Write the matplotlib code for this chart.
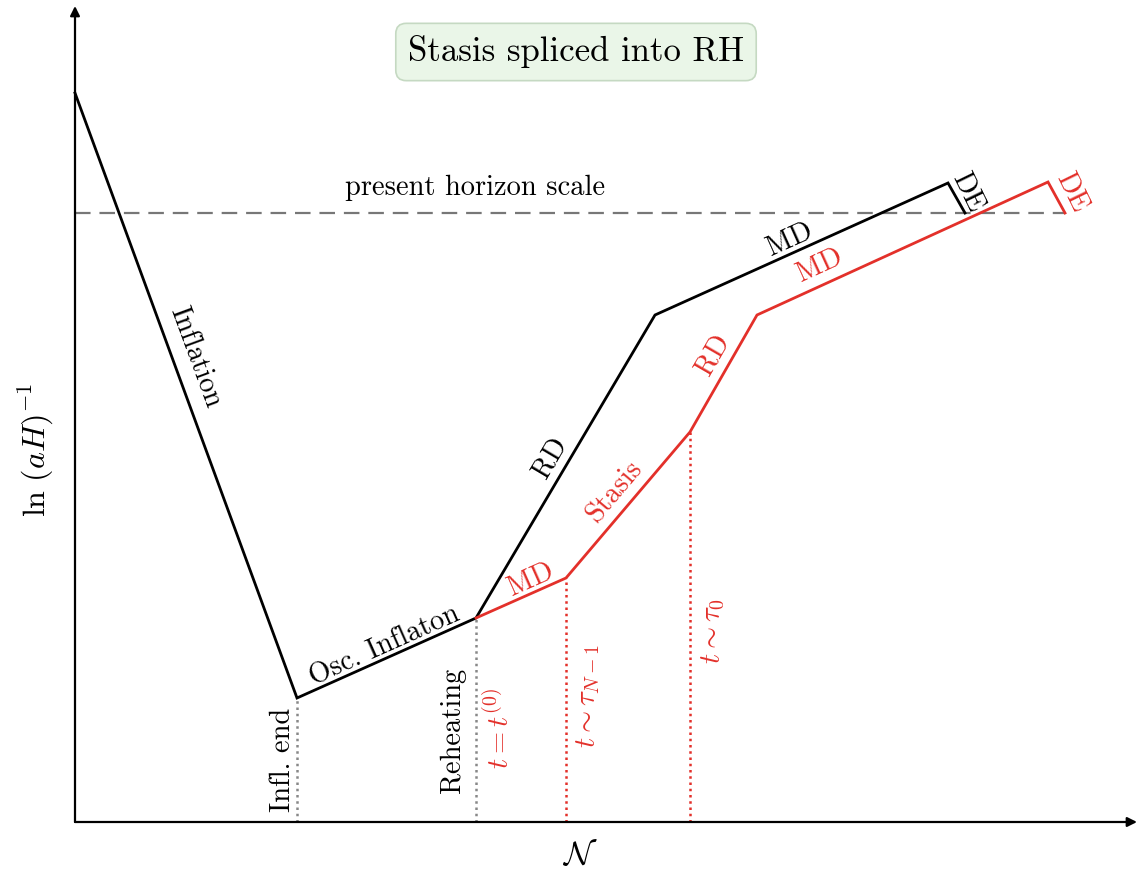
import matplotlib
matplotlib.use("Agg")
import matplotlib.pyplot as plt
import numpy as np

plt.rcParams['font.family'] = ['cmr10']
plt.rcParams['mathtext.fontset'] = 'cm'
plt.rcParams['axes.formatter.use_mathtext'] = True

# Schematic data (N, ln(aH)^-1) in arbitrary units, origin at axes origin
black_N = [0, 222, 401, 580, 873, 890]
black_L = [729, 124, 204, 507, 639, 609]
red_N = [401, 491, 615, 682, 973, 990]
red_L = [204, 244, 390, 507, 640, 609]
horizon_L = 609
horizon_N = [0, 990]
gray_marks_N = [222, 401]
gray_marks_L = [124, 204]
red_marks_N = [491, 615]
red_marks_L = [244, 390]

RED = '#e3302a'

fig = plt.figure(figsize=(11.39, 8.76), dpi=100)
ax = fig.add_axes([0, 0, 1, 1])
ax.set_xlim(-75, 1139 - 75)
ax.set_ylim(822 - 876, 822)
ax.axis('off')

# axes arrows
ax.annotate('', xy=(1062, 0), xytext=(0, 0),
            arrowprops=dict(arrowstyle='-|>', lw=1.6, color='black', mutation_scale=14, shrinkA=0, shrinkB=0))
ax.annotate('', xy=(0, 816), xytext=(0, 0),
            arrowprops=dict(arrowstyle='-|>', lw=1.6, color='black', mutation_scale=14, shrinkA=0, shrinkB=0))

# horizon
ax.plot(horizon_N, [horizon_L] * 2, color='#777777', lw=1.6, ls=(0, (7, 4)))

# dotted verticals
for n, l in zip(gray_marks_N, gray_marks_L):
    ax.plot([n, n], [0, l], color='#888888', lw=1.8, ls=(0, (1, 1.5)))
for n, l in zip(red_marks_N, red_marks_L):
    ax.plot([n, n], [0, l], color=RED, lw=1.8, ls=(0, (1, 1.5)))

ax.plot(black_N, black_L, color='black', lw=2.0, solid_joinstyle='miter')
ax.plot(red_N, red_L, color=RED, lw=2.0, solid_joinstyle='miter')

fs = 20.5
def lab(x, y, s, rot, color='black', size=fs):
    ax.text(x - 75, 822 - y, s, rotation=rot, color=color, fontsize=size,
            ha='center', va='center', rotation_mode='anchor')

lab(195, 357, 'Inflation', -69.8)
lab(385, 646, 'Osc. Inflaton', 24)
lab(550, 458, 'RD', 59.4)
lab(790, 240, 'MD', 24.2)
lab(967, 192, 'DE', -64)
lab(531, 580, 'MD', 24, RED)
lab(615, 492, 'Stasis', 49.7, RED)
lab(713, 355, 'RD', 60, RED)
lab(820, 266, 'MD', 24.6, RED)
lab(1071, 192, 'DE', -64, RED)
lab(475, 188, 'present horizon scale', 0, size=20.5)
lab(283, 760, 'Infl. end', 90)
lab(453, 730, 'Reheating', 90)
lab(500, 728, r'$t = t^{(0)}$', 90, RED)
lab(588, 696, r'$t \sim \tau_{N-1}$', 90, RED)
lab(713, 631, r'$t \sim \tau_0$', 90, RED)
lab(36, 450, r'$\ln\,(aH)^{-1}$', 90, size=23)
lab(580, 855, r'$\mathcal{N}$', 0, size=24)

ax.text(576 - 75, 822 - 52, 'Stasis spliced into RH', fontsize=25, ha='center', va='center',
        bbox=dict(boxstyle='round,pad=0.35,rounding_size=0.3', fc='#eaf6e8', ec='#c5d9c2', lw=1.2))

fig.savefig('out.png', dpi=100)
